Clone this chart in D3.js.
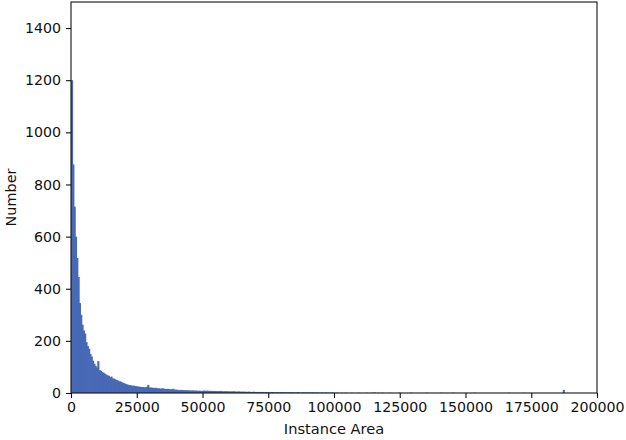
<!DOCTYPE html>
<meta charset="utf-8">
<style>
body { margin: 0; background: #fff; }
text { font-family: "DejaVu Sans", sans-serif; fill: #111; }
</style>
<svg width="626" height="440"></svg>
<script src="https://d3js.org/d3.v7.min.js"></script>
<script>

// histogram of instance areas, bin width 500, bins from 0 to 100000
var binWidth = 500
var counts = [
  1200, 877, 715, 600, 518, 445, 345, 300, 262, 240,
  228, 195, 180, 170, 150, 140, 124, 112, 104, 98,
  122, 88, 85, 80, 78, 74, 71, 68, 66, 61,
  63, 56, 55, 52, 50, 48, 45, 44, 41, 39,
  37, 34, 33, 31, 30, 29, 28, 28, 27, 26,
  25, 24, 24, 23, 23, 22, 22, 24, 31, 21,
  21, 20, 20, 19, 20, 18, 18, 17, 17, 18,
  16, 16, 15, 16, 15, 14, 14, 16, 13, 13,
  12, 12, 11, 12, 11, 11, 10, 11, 10, 10,
  10, 9, 10, 9, 9, 9, 8, 9, 8, 8,
  9, 9, 8, 9, 8, 8, 8, 8, 7, 8,
  7, 7, 7, 8, 7, 6, 7, 6, 7, 6,
  6, 6, 6, 7, 5, 6, 5, 6, 5, 5,
  5, 5, 5, 4, 5, 5, 4, 4, 5, 4,
  4, 4, 4, 3, 4, 4, 3, 4, 3, 3,
  3, 3, 4, 3, 3, 2, 3, 3, 2, 3,
  2, 3, 2, 2, 3, 2, 2, 3, 2, 2,
  2, 2, 3, 2, 1, 2, 2, 2, 1, 2,
  2, 1, 2, 2, 1, 2, 1, 2, 1, 1,
  2, 1, 1, 2, 1, 1, 1, 1, 2, 1
]

// sparse tail past 100000: [bin start, count]
var tailBins = [
  [100500, 1], [101000, 1], [102500, 1], [104000, 1], [106500, 1],
  [109000, 1], [112000, 1], [114000, 1], [115000, 2], [116500, 1],
  [118000, 1], [121000, 1], [124500, 1], [129000, 1], [135000, 1],
  [140500, 1], [145000, 1], [153000, 1], [166000, 1], [172000, 1],
  [187000, 12]
]

var xTicks = [0, 25000, 50000, 75000, 100000, 125000, 150000, 175000, 200000]
var yTicks = [0, 200, 400, 600, 800, 1000, 1200, 1400]

var bins = counts.map(function(c, i) { return [i * binWidth, c] }).concat(tailBins)

var svg = d3.select("svg")
var plotLeft = 71, plotRight = 597, plotTop = 2, plotBottom = 393

var xScale = d3.scaleLinear().domain([0, 200000]).range([plotLeft, plotRight])
var yScale = d3.scaleLinear().domain([0, 1500]).range([plotBottom, plotTop])

// bars overlap slightly so no seams show between neighbours
svg.append("g")
  .selectAll("rect")
  .data(bins)
  .enter()
  .append("rect")
  .attr("x", function(d) { return xScale(d[0]) })
  .attr("y", function(d) { return yScale(d[1]) })
  .attr("width", function(d) { return xScale(d[0] + binWidth) - xScale(d[0]) + 0.8 })
  .attr("height", function(d) { return plotBottom - yScale(d[1]) })
  .style("fill", "#4869b6")

// frame
svg.append("rect")
  .attr("x", plotLeft)
  .attr("y", plotTop)
  .attr("width", plotRight - plotLeft)
  .attr("height", plotBottom - plotTop)
  .attr("fill", "none")
  .attr("stroke", "#111")
  .attr("stroke-width", 1.1)

svg.append("g")
  .attr("transform", "translate(0," + plotBottom + ")")
  .call(d3.axisBottom(xScale).tickValues(xTicks).tickFormat(d3.format("d")).tickSize(5).tickPadding(4))
svg.append("g")
  .attr("transform", "translate(" + plotLeft + ",0)")
  .call(d3.axisLeft(yScale).tickValues(yTicks).tickFormat(d3.format("d")).tickSize(5).tickPadding(5))

svg.selectAll(".domain").remove()
svg.selectAll(".tick line").attr("stroke", "#111").attr("stroke-width", 1.1)
svg.selectAll(".tick text")
  .style("font-family", "DejaVu Sans")
  .style("font-size", "14.2px")
  .attr("fill", "#111")

svg.append("text")
  .attr("x", (plotLeft + plotRight) / 2)
  .attr("y", 434)
  .attr("text-anchor", "middle")
  .style("font-size", "14.6px")
  .text("Instance Area")

svg.append("text")
  .attr("transform", "translate(16," + (plotTop + plotBottom) / 2 + ")rotate(-90)")
  .attr("text-anchor", "middle")
  .style("font-size", "14.4px")
  .text("Number")

</script>
